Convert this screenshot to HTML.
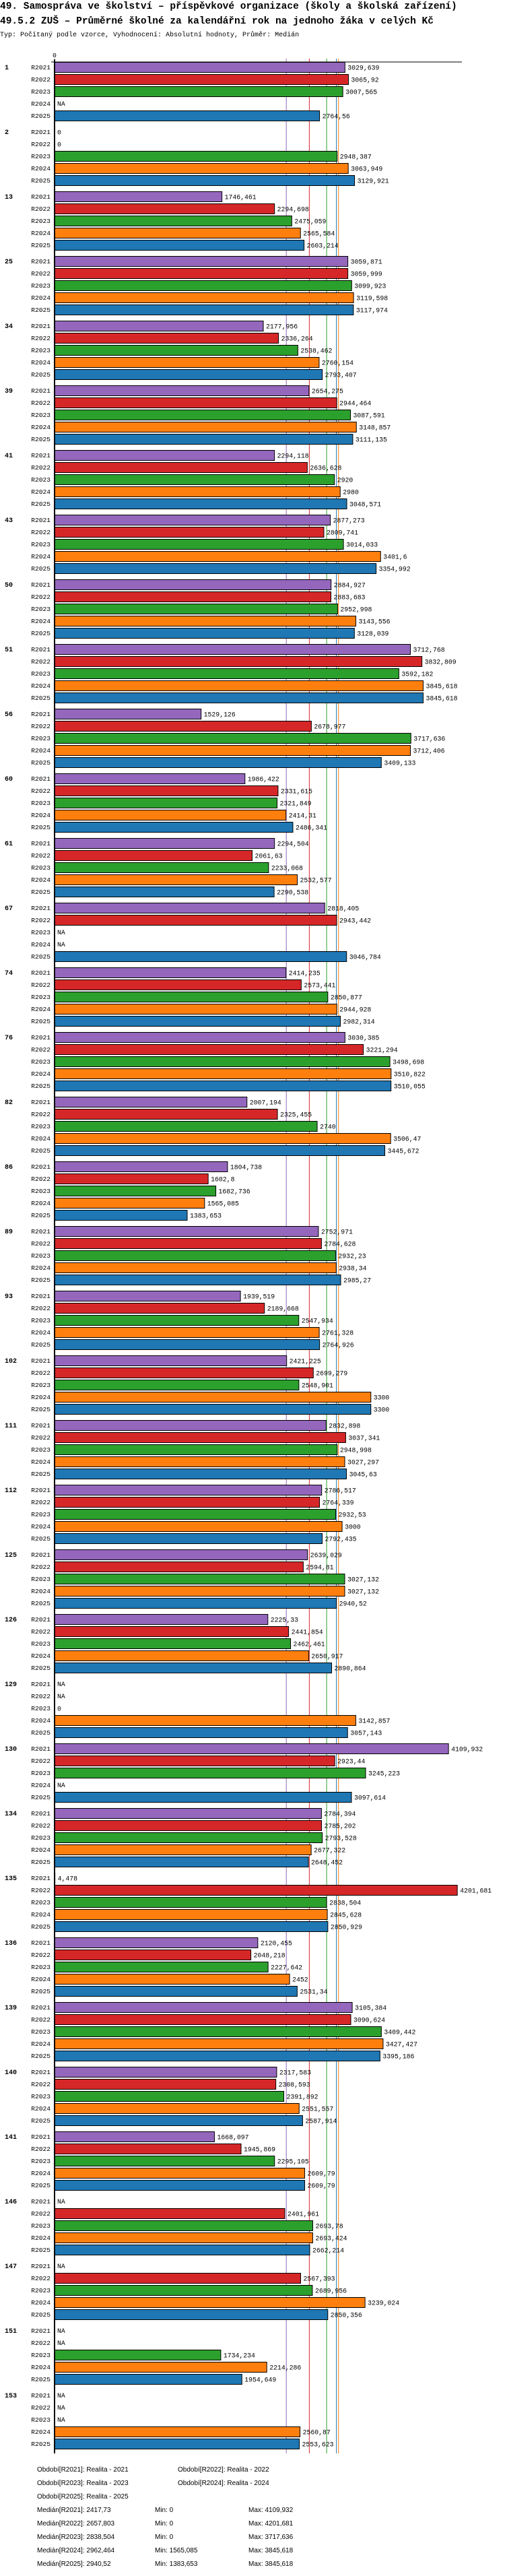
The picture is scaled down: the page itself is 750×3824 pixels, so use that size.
<!DOCTYPE html>
<html><head><meta charset="utf-8">
<style>
html,body{margin:0;padding:0;background:#fff;}
svg{display:block;}
.t1{font:bold 14.5px "Liberation Mono",monospace;}
.t3{font:10px "Liberation Mono",monospace;}
.gl{font:bold 10px "Liberation Mono",monospace;}
.rl{font:9.6px "Liberation Mono",monospace;}
.vl{font:9.8px "Liberation Mono",monospace;}
.lg{font:10px "Liberation Sans",sans-serif;}
</style></head>
<body>
<svg id="chart" width="750" height="3824" xmlns="http://www.w3.org/2000/svg">
<text class="t1" x="0" y="13">49. Samospráva ve školství – příspěvkové organizace (školy a školská zařízení)</text>
<text class="t1" x="0" y="35">49.5.2 ZUŠ – Průměrné školné za kalendářní rok na jednoho žáka v celých Kč</text>
<text class="t3" x="0" y="54">Typ: Počítaný podle vzorce, Vyhodnocení: Absolutní hodnoty, Průměr: Medián</text>
<text class="rl" x="81" y="85" text-anchor="middle">0</text>
</svg>
<script>
const categories=["1","2","13","25","34","39","41","43","50","51","56","60","61","67","74","76","82","86","89","93","102","111","112","125","126","129","130","134","135","136","139","140","141","146","147","151","153"];
const periods=["R2021","R2022","R2023","R2024","R2025"];
const s2021=[3029.639,0,1746.461,3059.871,2177.956,2654.275,2294.118,2877.273,2884.927,3712.768,1529.126,1986.422,2294.504,2818.405,2414.235,3030.385,2007.194,1804.738,2752.971,1939.519,2421.225,2832.898,2786.517,2639.029,2225.33,null,4109.932,2784.394,4.478,2120.455,3105.384,2317.583,1668.097,null,null,null,null];
const s2022=[3065.92,0,2294.698,3059.999,2336.264,2944.464,2636.628,2809.741,2883.683,3832.809,2678.977,2331.615,2061.63,2943.442,2573.441,3221.294,2325.455,1602.8,2784.628,2189.668,2699.279,3037.341,2764.339,2594.81,2441.854,null,2923.44,2785.202,4201.681,2048.218,3090.624,2308.593,1945.869,2401.961,2567.393,null,null];
const s2023=[3007.565,2948.387,2475.059,3099.923,2538.462,3087.591,2920,3014.033,2952.998,3592.182,3717.636,2321.849,2233.068,null,2850.877,3498.698,2740,1682.736,2932.23,2547.934,2548.901,2948.998,2932.53,3027.132,2462.461,0,3245.223,2793.528,2838.504,2227.642,3409.442,2391.892,2295.105,2693.78,2689.956,1734.234,null];
const s2024=[null,3063.949,2565.584,3119.598,2760.154,3148.857,2980,3401.6,3143.556,3845.618,3712.406,2414.31,2532.577,null,2944.928,3510.822,3506.47,1565.085,2938.34,2761.328,3300,3027.297,3000,3027.132,2650.917,3142.857,null,2677.322,2845.628,2452,3427.427,2551.557,2609.79,2693.424,3239.024,2214.286,2560.87];
const s2025=[2764.56,3129.921,2603.214,3117.974,2793.407,3111.135,3048.571,3354.992,3128.039,3845.618,3409.133,2486.341,2290.538,3046.784,2982.314,3510.055,3445.672,1383.653,2985.27,2764.926,3300,3045.63,2792.435,2940.52,2890.864,3057.143,3097.614,2648.452,2850.929,2531.34,3395.186,2587.914,2609.79,2662.214,2850.356,1954.649,2553.623];
const medians=[2417.73,2657.803,2838.504,2962.464,2940.52];
const medianLabels=["2417,73","2657,803","2838,504","2962,464","2940,52"];
const mins=["0","0","0","1565,085","1383,653"];
const maxs=["4109,932","4201,681","3717,636","3845,618","3845,618"];
const periodNames=["Realita - 2021","Realita - 2022","Realita - 2023","Realita - 2024","Realita - 2025"];

const colors=["#9467bd","#d62728","#2ca02c","#ff7f0e","#1f77b4"];
const series=[s2021,s2022,s2023,s2024,s2025];
const NS="http://www.w3.org/2000/svg";
const svg=document.getElementById('chart');
const X0=81, K=0.14236, TOP=92, GP=96, RP=18;
const xs=v=>X0+v*K;
const gy=i=>TOP+i*GP;
function mk(tag,attrs,txt){const e=document.createElementNS(NS,tag);for(const k in attrs)e.setAttribute(k,attrs[k]);if(txt!==undefined)e.textContent=txt;svg.appendChild(e);return e;}
function fmt(v){return String(v).replace('.',',');}
const yEnd=gy(categories.length)-2;
// median lines
medians.forEach((m,i)=>{
  const l=mk('line',{x1:xs(m),x2:xs(m),y1:87,y2:yEnd,stroke:colors[i],'stroke-width':1});
  
  
});
// top axis line
const ta=mk('line',{x1:76,x2:686,y1:92,y2:92,stroke:'#000','stroke-width':1});


categories.forEach((c,g)=>{
  const y0=gy(g);
  const gl=mk('text',{class:'gl',x:7,y:y0+11},c);
  
  
  periods.forEach((p,r)=>{
    const ry=y0+r*RP;
    const rl=mk('text',{class:'rl',x:75,y:ry+11,'text-anchor':'end'},p);
    
    
    const v=series[r][g];
    if(v===null){
      const t=mk('text',{class:'vl',x:85,y:ry+11},'NA');
      
      
      return;
    }
    const w=xs(v)-X0;
    if(w>0.5){
      const b=mk('rect',{x:X0,y:ry+0.5,width:w,height:15,fill:colors[r],stroke:'#000','stroke-width':1});
      
      
    }
    const t=mk('text',{class:'vl',x:Math.max(xs(v)+4,85),y:ry+11.5},fmt(v));
    
    
  });
});
// y axis
const ya=mk('line',{x1:81,x2:81,y1:88,y2:yEnd,stroke:'#000','stroke-width':2});


// legend
const LY=3669;
const lpos=[[55,LY],[264,LY],[55,LY+20],[264,LY+20],[55,LY+40]];
periods.forEach((p,i)=>{
  const t=mk('text',{class:'lg',x:lpos[i][0],y:lpos[i][1]},'Období['+p+']: '+periodNames[i]);
  
  
  const yy=LY+60+i*20;
  const a=mk('text',{class:'lg',x:55,y:yy},'Medián['+p+']: '+medianLabels[i]);
  
  
  const b=mk('text',{class:'lg',x:230,y:yy},'Min: '+mins[i]);
  
  
  const d=mk('text',{class:'lg',x:369,y:yy},'Max: '+maxs[i]);
  
  
});
</script>
</body></html>
